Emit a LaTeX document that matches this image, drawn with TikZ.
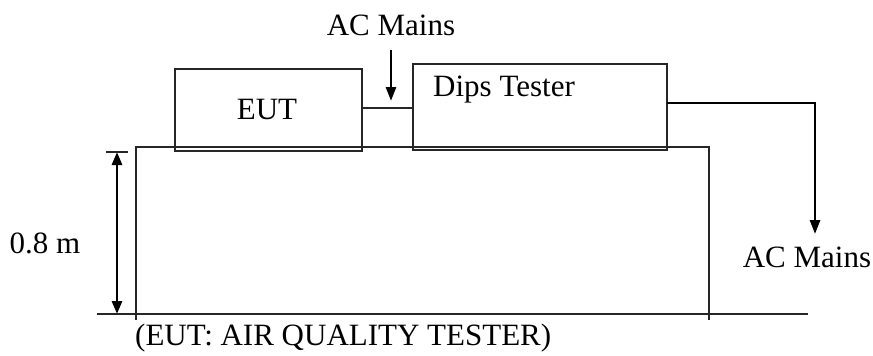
\documentclass[tikz,border=0pt]{standalone}
\usepackage{fontspec}
\setmainfont{Liberation Serif}
\usetikzlibrary{arrows.meta}
\begin{document}
\begin{tikzpicture}[x=1pt,y=-1pt,
  thinline/.style={draw=black!85, line width=1.3pt},
  thickarrow/.style={draw=black, line width=2.8pt, -{Triangle[length=14pt,width=10pt]}},
  dimarrow/.style={draw=black, line width=2.8pt, {Triangle[length=13pt,width=10pt]}-{Triangle[length=13pt,width=10pt]}},
  txt/.style={inner sep=0pt, font=\fontsize{31}{36}\selectfont},
  boxstyle/.style={thinline, rectangle, inner sep=0pt}]
\useasboundingbox (0,0) rectangle (873,356);
% boxes
\node[boxstyle, minimum width=187pt, minimum height=82pt] (eut) at (268.5,110) {};
\node[boxstyle, minimum width=254pt, minimum height=86pt] (dips) at (540,107) {};
\node[txt] (eutlbl) at (267,110) {EUT};
\node[txt, anchor=west] (dipslbl) at (433,90) {Dips Tester};
% table
\coordinate (tl) at (136,147);
\coordinate (tr) at (709,147);
\coordinate (bl) at (136,320);
\coordinate (br) at (709,320);
\draw[thinline] (bl) -- (tl) -- (tr) -- (br);
% floor
\coordinate (fl) at (97,314);
\coordinate (fr) at (808,314);
\draw[thinline] (fl) -- (fr);
% link EUT - Dips
\draw[thinline] (eut.east |- 0,108) -- (dips.west |- 0,108);
% AC mains top
\node[txt] (acm1) at (391,25) {AC Mains};
\coordinate (a1s) at (391,50);
\coordinate (a1e) at (391,101);
\draw[thickarrow] (a1s) -- (a1e);
% AC mains right
\coordinate (o1) at (667,103);
\coordinate (o2) at (815,103);
\coordinate (o3) at (815,234);
\draw[thickarrow] (o1) -- (o2) -- (o3);
\node[txt] (acm2) at (807,257) {AC Mains};
% dimension
\coordinate (dt1) at (106,152);
\coordinate (dt2) at (128,152);
\draw[thinline] (dt1) -- (dt2);
\coordinate (d1) at (117,152);
\coordinate (d2) at (117,314);
\draw[dimarrow] (d1) -- (d2);
\node[txt] (dim) at (45,243) {0.8 m};
% caption
\node[txt, anchor=west] (cap) at (135,338) {(EUT: AIR QUALITY TESTER)};
\end{tikzpicture}
\end{document}
